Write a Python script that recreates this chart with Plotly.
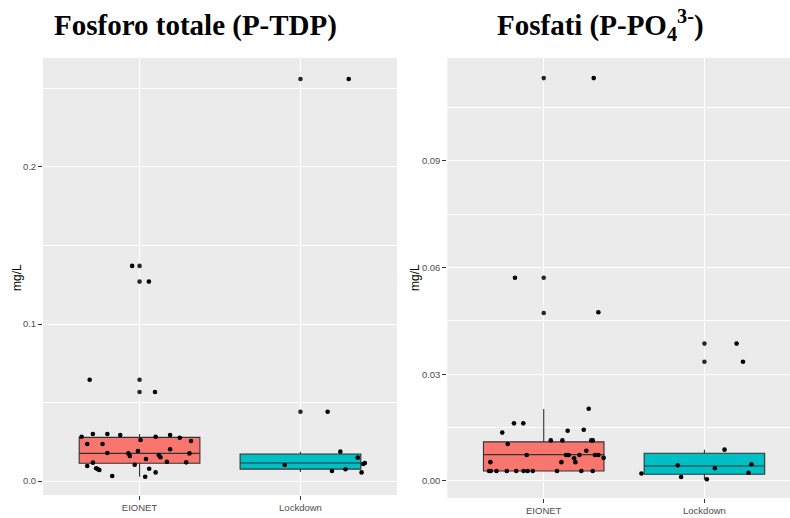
import plotly.graph_objects as go

# ---------------- data ----------------
categories = ["EIONET", "Lockdown"]
box_colors = ["#F8766D", "#00BFC4"]

# Panel 1: Fosforo totale (P-TDP), mg/L
tdp_eionet_values = [0.0282, 0.0299, 0.0299, 0.0293, 0.0236, 0.0236, 0.0261, 0.0282, 0.0293, 0.0276,
                     0.0255, 0.0178, 0.0176, 0.0159, 0.0191, 0.0202, 0.0164, 0.0151, 0.0176, 0.0140,
                     0.0123, 0.0119, 0.0104, 0.0096, 0.0117, 0.0081, 0.0076, 0.0070, 0.0078, 0.0055,
                     0.0027, 0.0032, 0.137, 0.127, 0.0645, 0.0567]
tdp_eionet_jitter = [-0.36, -0.29, -0.20, -0.12, -0.325, -0.23, 0.006, 0.10, 0.19, 0.25,
                     0.32, -0.20, -0.07, -0.06, -0.01, 0.19, 0.12, 0.13, 0.31, 0.04,
                     0.17, 0.29, -0.03, -0.325, -0.29, -0.27, -0.26, -0.25, 0.06, 0.10,
                     0.035, -0.17, -0.046, 0.058, -0.31, 0.096]
tdp_lock_values = [0.0187, 0.0149, 0.0102, 0.0108, 0.0115, 0.0064, 0.0075, 0.0055, 0.0441, 0.256]
tdp_lock_jitter = [0.248, 0.356, -0.098, 0.39, 0.40, 0.196, 0.28, 0.38, 0.169, 0.30]

tdp_q1 = [0.0113, 0.0076]
tdp_median = [0.0176, 0.0115]
tdp_q3 = [0.0278, 0.0172]
tdp_lowerfence = [0.0027, 0.0058]
tdp_upperfence = [0.0299, 0.0187]
tdp_outliers = [[0.137, 0.127, 0.0645, 0.0567], [0.256, 0.0441]]

# Panel 2: Fosfati (P-PO4 3-), mg/L
po4_eionet_values = [0.0203, 0.0162, 0.0162, 0.0136, 0.0141, 0.0144, 0.0104, 0.0114, 0.0114, 0.0114,
                     0.0114, 0.0085, 0.0073, 0.0073, 0.0073, 0.0073, 0.0073, 0.0073, 0.0064, 0.0053,
                     0.0065, 0.0053, 0.0053,
                     0.0028, 0.0028, 0.0028, 0.0028, 0.0028, 0.0028, 0.0028, 0.0028, 0.0028, 0.0028, 0.0028,
                     0.1132, 0.0571, 0.0474]
po4_eionet_jitter = [0.28, -0.185, -0.127, -0.258, 0.149, 0.249, -0.224, 0.044, 0.116, 0.296,
                     0.305, 0.265, -0.106, 0.139, 0.156, 0.222, 0.319, 0.340, 0.189, 0.197,
                     0.373, 0.110, -0.332,
                     -0.34, -0.33, -0.294, -0.23, -0.171, -0.125, -0.10, -0.068, 0.083, 0.234, 0.305,
                     0.311, -0.179, 0.34]
po4_lock_values = [0.0088, 0.0044, 0.0036, 0.0047, 0.0021, 0.0011, 0.0005, 0.0023, 0.0386, 0.0335]
po4_lock_jitter = [0.125, -0.166, 0.065, 0.293, -0.392, -0.145, 0.015, 0.274, 0.20, 0.24]

po4_q1 = [0.0028, 0.0019]
po4_median = [0.0074, 0.0042]
po4_q3 = [0.0110, 0.0078]
po4_lowerfence = [0.0028, 0.0005]
po4_upperfence = [0.0202, 0.0088]
po4_outliers = [[0.1132, 0.0571, 0.0472], [0.0386, 0.0335]]

titles = ["<b>Fosforo totale (P-TDP)</b>", "<b>Fosfati (P-PO<sub>4</sub><sup>3-</sup>)</b>"]
y_title = "mg/L"
tdp_ticks = [0.0, 0.1, 0.2]
po4_ticks = [0.0, 0.03, 0.06, 0.09]

# ---------------- figure ----------------
W, H = 790, 518
fig = go.Figure()
positions = [1, 2]


def add_panel(xa, ya, q1, med, q3, lf, uf, outliers, jit_vals, jit_offs):
    for i, cat in enumerate(categories):
        fig.add_trace(go.Box(
            x=[positions[i]], q1=[q1[i]], median=[med[i]], q3=[q3[i]],
            lowerfence=[lf[i]], upperfence=[uf[i]],
            width=0.75, whiskerwidth=0, fillcolor=box_colors[i],
            line=dict(color="#333333", width=1.1),
            boxpoints=False, xaxis=xa, yaxis=ya, showlegend=False, hoverinfo="skip"))
        fig.add_trace(go.Scatter(
            x=[positions[i]] * len(outliers[i]), y=outliers[i], mode="markers",
            marker=dict(color="#262626", size=4.6), xaxis=xa, yaxis=ya,
            showlegend=False, hoverinfo="skip"))
    for i in range(2):
        vals, offs = jit_vals[i], jit_offs[i]
        fig.add_trace(go.Scatter(
            x=[positions[i] + o for o in offs], y=vals, mode="markers",
            marker=dict(color="black", size=4.6), xaxis=xa, yaxis=ya,
            showlegend=False, hoverinfo="skip"))


add_panel("x", "y", tdp_q1, tdp_median, tdp_q3, tdp_lowerfence, tdp_upperfence, tdp_outliers,
          [tdp_eionet_values, tdp_lock_values], [tdp_eionet_jitter, tdp_lock_jitter])
add_panel("x2", "y2", po4_q1, po4_median, po4_q3, po4_lowerfence, po4_upperfence, po4_outliers,
          [po4_eionet_values, po4_lock_values], [po4_eionet_jitter, po4_lock_jitter])

tickfont = dict(family="Liberation Sans, Arial", size=9.5, color="#4D4D4D")
common_x = dict(tickvals=positions, ticktext=categories, showgrid=True, gridcolor="white",
                gridwidth=1.3, zeroline=False, ticks="outside", ticklen=4, tickcolor="#333333",
                tickwidth=1, tickfont=tickfont, showline=False, fixedrange=True)
common_y = dict(showgrid=True, gridcolor="white", gridwidth=1.3, zeroline=False, ticks="outside",
                ticklen=4, tickcolor="#333333", tickwidth=1, tickfont=tickfont, showline=False)

fig.update_layout(
    width=W, height=H,
    margin=dict(l=0, r=0, t=0, b=0),
    paper_bgcolor="white", plot_bgcolor="#EBEBEB",
    xaxis=dict(domain=[43 / W, 397 / W], range=[0.4, 2.6], anchor="y", **common_x),
    yaxis=dict(domain=[(H - 495) / H, (H - 58) / H], range=[-0.0089, 0.2694], anchor="x",
               tickvals=tdp_ticks, tickformat=".1f",
               minor=dict(dtick=0.05, tick0=0, showgrid=True, gridcolor="white", gridwidth=0.8),
               **common_y),
    xaxis2=dict(domain=[447.3 / W, 1.0], range=[0.4, 2.5325], anchor="y2", **common_x),
    yaxis2=dict(domain=[(H - 498) / H, (H - 58) / H], range=[-0.00478, 0.11885], anchor="x2",
                tickvals=po4_ticks, tickformat=".2f",
                minor=dict(dtick=0.015, tick0=0, showgrid=True, gridcolor="white", gridwidth=0.8),
                **common_y),
)

title_font = dict(family="Liberation Serif, Times New Roman", size=29, color="black")
fig.add_annotation(text=titles[0], x=195.5 / W, y=1 - 25 / H, xref="paper", yref="paper",
                   xanchor="center", yanchor="middle", showarrow=False, font=title_font)
fig.add_annotation(text=titles[1], x=600.5 / W, y=1 - 25 / H, xref="paper", yref="paper",
                   xanchor="center", yanchor="middle", showarrow=False, font=title_font)

ytitle_font = dict(family="Liberation Sans, Arial", size=12, color="black")
fig.add_annotation(text=y_title, x=17 / W, y=1 - 278 / H, xref="paper", yref="paper",
                   xanchor="center", yanchor="middle", showarrow=False, textangle=-90,
                   font=ytitle_font)
fig.add_annotation(text=y_title, x=415 / W, y=1 - 278 / H, xref="paper", yref="paper",
                   xanchor="center", yanchor="middle", showarrow=False, textangle=-90,
                   font=ytitle_font)

fig.write_html("out.html")
